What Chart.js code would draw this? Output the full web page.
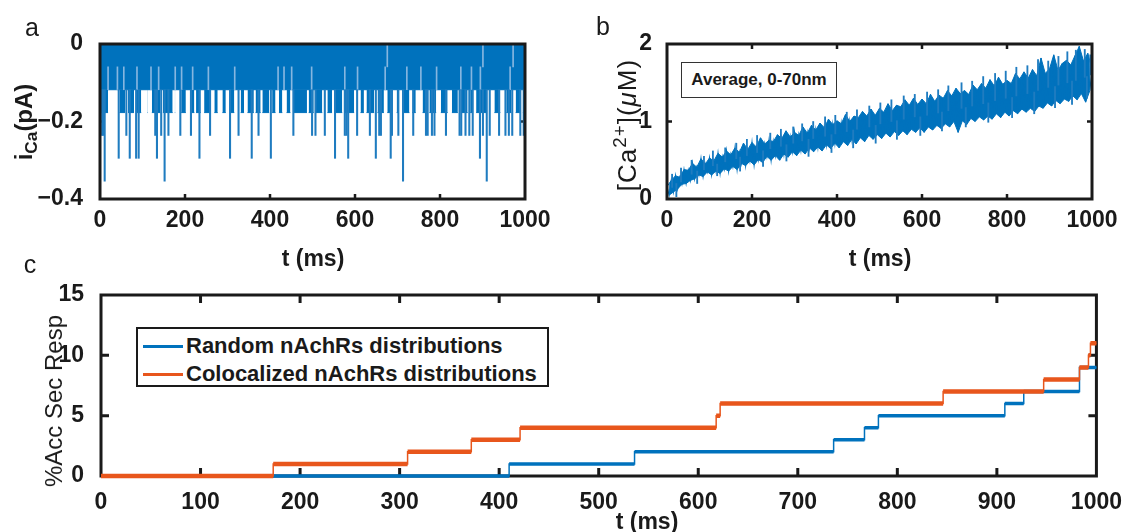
<!DOCTYPE html>
<html>
<head>
<meta charset="utf-8">
<title>Calcium current, calcium concentration and accumulated secretory response</title>
<script src="https://cdn.jsdelivr.net/npm/chart.js@4.4.0/dist/chart.umd.min.js"></script>
<style>
  body { margin: 0; width: 1127px; height: 532px; background: #fff; position: relative; overflow: hidden;
         font-family: 'Liberation Sans', Arial, Helvetica, sans-serif; color: #1a1a1a; }
  .wrap { position: absolute; }
  .txt { position: absolute; white-space: nowrap; line-height: 1; transform: translate(-50%, -50%); }
  .rot { transform: translate(-50%, -50%) rotate(-90deg); }
  .bold { font-weight: bold; }
  .panel { font-size: 25px; }
  .xt { font-size: 23px; font-weight: bold; }
  sub { font-size: 0.72em; vertical-align: -0.3em; line-height: 0; }
  sup { font-size: 0.72em; vertical-align: 0.55em; line-height: 0; }
  #note { position: absolute; left: 681px; top: 62px; width: 154px; height: 34px; border: 1px solid #333;
          font-size: 17px; font-weight: bold; display: flex; align-items: center; justify-content: center; background: #fff; }
  #legend { position: absolute; left: 136px; top: 327px; width: 409px; height: 56px; border: 2px solid #1a1a1a;
            background: #fff; font-size: 22px; font-weight: bold; }
  #legend .row { position: absolute; left: 5px; height: 26px; display: flex; align-items: center; }
  #legend .swatch { width: 40px; height: 3px; margin-right: 3px; }
</style>
</head>
<body>

<div class="wrap" id="wa" style="left:0;top:0;width:560px;height:250px"><canvas id="chartA"></canvas></div>
<div class="wrap" id="wb" style="left:560px;top:0;width:567px;height:250px"><canvas id="chartB"></canvas></div>
<div class="wrap" id="wc" style="left:0;top:260px;width:1127px;height:272px"><canvas id="chartC"></canvas></div>

<div class="txt panel" style="left:32px;top:27px">a</div>
<div class="txt panel" style="left:603px;top:26px">b</div>
<div class="txt panel" style="left:30px;top:264px">c</div>

<div class="txt rot bold" style="left:24px;top:122px;font-size:24px">i<sub>Ca</sub>(pA)</div>
<div class="txt rot" style="left:627px;top:125px;font-size:26px;letter-spacing:1px">[Ca<sup>2+</sup>](<i>μ</i>M)</div>
<div class="txt rot" style="left:54px;top:401px;font-size:24px">%Acc Sec Resp</div>

<div class="txt xt" style="left:313px;top:258px">t (ms)</div>
<div class="txt xt" style="left:880px;top:258px">t (ms)</div>
<div class="txt xt" style="left:647px;top:521px">t (ms)</div>

<div id="note">Average, 0-70nm</div>

<div id="legend">
  <div class="row" style="top:4px"><div class="swatch" style="background:#0072BD"></div>Random nAchRs distributions</div>
  <div class="row" style="top:32px"><div class="swatch" style="background:#E8561C"></div>Colocalized nAchRs distributions</div>
</div>

<script>
// --- panel a: single-channel Ca current, pA ---
const aLevels = [0, -0.059, -0.118, -0.177, -0.236, -0.295, -0.354];
const aXTicks = [0, 200, 400, 600, 800, 1000];
const aYTicks = [-0.4, -0.2, 0];
const aYTickLabels = ['−0.4', '−0.2', '0'];
// stretches (ms) where the trace keeps dropping to the -0.177 level
const aLevel3Spans = [
  [1, 19], [46, 59], [66, 80], [85, 97], [112, 113], [122, 142], [148, 171], [176, 177],
  [191, 202], [214, 222], [226, 237], [245, 261], [269, 277], [288, 296], [308, 316], [331, 339],
  [347, 362], [366, 378], [382, 398], [405, 413], [421, 429], [439, 448], [456, 487], [491, 503],
  [507, 523], [535, 546], [554, 570], [576, 598], [613, 621], [627, 645], [653, 668], [676, 688],
  [698, 702], [712, 728], [735, 743], [759, 767], [775, 791], [802, 818], [828, 842], [850, 865],
  [871, 877], [885, 909], [928, 942], [956, 968], [978, 989], [995, 1000]
];
// single openings reaching the deeper levels (ms)
const aLevel4Times = [5, 8, 62, 130, 144, 161, 189, 214, 259, 326, 373, 455, 499, 507, 529, 576, 580,
  605, 635, 657, 661, 687, 702, 737, 767, 771, 781, 787, 814, 846, 850, 860, 869, 877, 901, 917, 939,
  954, 962, 970, 989, 997];
const aLevel5Times = [44, 70, 85, 91, 134, 234, 306, 357, 402, 553, 584, 649, 684, 894];
const aLevel6Times = [11, 152, 713, 910];
// short closures visible inside the solid band
const aGapTimes = [19, 41, 56, 87, 120, 138, 177, 192, 218, 255, 317, 419, 433, 451, 498, 576, 606,
  671, 722, 755, 792, 849, 874, 895, 965];
const aTopGapTimes = [676, 901, 972];

// --- panel b: average [Ca2+] 0-70 nm, uM, one sample every 5 ms ---
const bDt = 5;
const bXTicks = [0, 200, 400, 600, 800, 1000];
const bYTicks = [0, 1, 2];
const bValues = [
  0.16, 0.05, 0.24, 0.09, 0.30, 0.13, 0.28, 0.19, 0.38, 0.20,
  0.37, 0.24, 0.46, 0.26, 0.41, 0.31, 0.52, 0.29, 0.45, 0.35,
  0.53, 0.31, 0.49, 0.36, 0.59, 0.33, 0.54, 0.39, 0.62, 0.36,
  0.57, 0.42, 0.66, 0.38, 0.60, 0.46, 0.72, 0.43, 0.64, 0.49,
  0.73, 0.44, 0.67, 0.51, 0.79, 0.47, 0.71, 0.55, 0.76, 0.50,
  0.74, 0.56, 0.83, 0.50, 0.78, 0.58, 0.88, 0.54, 0.80, 0.61,
  0.86, 0.56, 0.82, 0.63, 0.93, 0.58, 0.85, 0.66, 0.95, 0.61,
  0.89, 0.67, 0.98, 0.62, 0.92, 0.70, 1.03, 0.65, 0.96, 0.72,
  1.01, 0.66, 0.97, 0.74, 1.09, 0.69, 1.00, 0.77, 1.07, 0.71,
  1.05, 0.79, 1.13, 0.74, 1.07, 0.82, 1.16, 0.77, 1.08, 0.83,
  1.17, 0.78, 1.12, 0.85, 1.23, 0.80, 1.14, 0.87, 1.21, 0.82,
  1.19, 0.88, 1.28, 0.83, 1.21, 0.90, 1.30, 0.86, 1.22, 0.92,
  1.29, 0.86, 1.23, 0.93, 1.35, 0.89, 1.26, 0.95, 1.34, 0.91,
  1.30, 0.97, 1.40, 0.93, 1.33, 1.00, 1.43, 0.86, 1.36, 1.01,
  1.40, 0.96, 1.35, 1.04, 1.47, 1.00, 1.41, 1.06, 1.49, 1.02,
  1.43, 1.07, 1.54, 1.03, 1.46, 1.10, 1.57, 1.05, 1.48, 1.12,
  1.53, 1.07, 1.49, 1.14, 1.62, 1.10, 1.55, 1.16, 1.64, 1.12,
  1.56, 1.17, 1.67, 1.13, 1.59, 1.20, 1.82, 1.17, 1.62, 1.24,
  1.68, 1.20, 1.86, 1.27, 1.66, 1.23, 1.75, 1.29, 1.79, 1.26,
  1.73, 1.33, 1.85, 1.28, 1.97, 1.36, 1.78, 1.25, 1.88, 1.40,
  1.68
];
// narrow excursions sticking out of the band: [t (ms), from, to] in uM
const bSpikes = [
  [12, 0.15, 0.32], [33, 0.22, 0.40], [58, 0.32, 0.50], [87, 0.38, 0.55], [108, 0.43, 0.62],
  [137, 0.48, 0.66], [163, 0.52, 0.72], [188, 0.56, 0.77], [212, 0.60, 0.82], [243, 0.65, 0.85],
  [268, 0.68, 0.90], [297, 0.72, 0.93], [318, 0.75, 0.97], [344, 0.78, 1.00], [372, 0.81, 1.06],
  [396, 0.84, 1.08], [423, 0.87, 1.12], [447, 0.90, 1.15], [476, 0.93, 1.20], [502, 0.97, 1.24],
  [528, 1.00, 1.28], [557, 1.03, 1.33], [583, 1.06, 1.35], [612, 1.08, 1.38], [638, 1.11, 1.41],
  [662, 1.14, 1.46], [693, 1.17, 1.50], [718, 1.20, 1.52], [744, 1.23, 1.58], [772, 1.27, 1.62],
  [797, 1.30, 1.65], [822, 1.33, 1.70], [848, 1.36, 1.72], [873, 1.40, 1.80], [897, 1.44, 1.78],
  [921, 1.47, 1.84], [942, 1.50, 1.90], [962, 1.53, 1.92], [983, 1.57, 1.93], [996, 1.60, 1.86],
  [22, 0.20, 0.03], [71, 0.36, 0.20], [118, 0.45, 0.30], [172, 0.54, 0.36], [226, 0.62, 0.42],
  [281, 0.70, 0.49], [333, 0.77, 0.55], [387, 0.83, 0.60], [438, 0.89, 0.66], [491, 0.95, 0.72],
  [541, 1.01, 0.77], [596, 1.06, 0.82], [647, 1.12, 0.88], [703, 1.18, 0.93], [756, 1.24, 0.99],
  [812, 1.31, 1.05], [864, 1.38, 1.10], [913, 1.45, 1.18], [953, 1.52, 1.22], [988, 1.58, 1.30]
];

// --- panel c: accumulated secretory response, % ---
const cXTicks = [0, 100, 200, 300, 400, 500, 600, 700, 800, 900, 1000];
const cYTicks = [0, 5, 10, 15];
const cEnd = 1000;
const cRandomTimes = [0, 410, 536, 736, 767, 781, 908, 927, 983];
const cRandomLevels = [0, 1, 2, 3, 4, 5, 6, 7, 9];
const cColocTimes = [0, 173, 308, 372, 421, 618, 622, 846, 947, 983, 992, 994];
const cColocLevels = [0, 1, 2, 3, 4, 5, 6, 7, 8, 9, 10, 11];

const BLUE = '#0072BD';
const ORANGE = '#E8561C';
const INK = '#1a1a1a';
const FONT = "'Liberation Sans', Arial, Helvetica, sans-serif";
const TICK_FONT = { family: FONT, size: 23, weight: 'bold' };

// box round the plot area with inward ticks, drawn with the chart's own scales
function drawTicks(chart, o) {
  const { ctx, chartArea: ca, scales } = chart;
  ctx.save();
  ctx.strokeStyle = INK;
  ctx.lineWidth = o.tickWidth;
  ctx.beginPath();
  scales.x.ticks.forEach(t => {
    if (t.value <= scales.x.min || t.value >= scales.x.max) return;
    const px = scales.x.getPixelForValue(t.value);
    ctx.moveTo(px, ca.bottom); ctx.lineTo(px, ca.bottom - o.tickLen);
    ctx.moveTo(px, ca.top); ctx.lineTo(px, ca.top + o.tickLen);
  });
  scales.y.ticks.forEach(t => {
    if (t.value <= scales.y.min || t.value >= scales.y.max) return;
    const py = scales.y.getPixelForValue(t.value);
    ctx.moveTo(ca.left, py); ctx.lineTo(ca.left + o.tickLen, py);
    ctx.moveTo(ca.right, py); ctx.lineTo(ca.right - o.tickLen, py);
  });
  ctx.stroke();
  ctx.restore();
}

function drawFrame(chart, o) {
  const { ctx, chartArea: ca } = chart;
  ctx.save();
  ctx.strokeStyle = INK;
  ctx.lineWidth = o.lineWidth;
  ctx.strokeRect(ca.left, ca.top, ca.right - ca.left, ca.bottom - ca.top);
  ctx.restore();
}

const framePlugin = {
  id: 'frame',
  beforeDatasetsDraw(chart, args, o) {
    drawTicks(chart, o);
    if (!o.frameOnTop) drawFrame(chart, o);
  },
  afterDatasetsDraw(chart, args, o) {
    if (o.frameOnTop) drawFrame(chart, o);
  }
};

function axis(ticks, labels, min, max, size, pad) {
  return {
    type: 'linear', min: min, max: max, offset: false,
    grid: { display: false }, border: { display: false },
    afterBuildTicks: s => { s.ticks = ticks.map(v => ({ value: v })); },
    afterFit: s => { if (s.isHorizontal()) s.height = size; else s.width = size; },
    ticks: {
      padding: pad, color: INK, font: TICK_FONT, maxRotation: 0, autoSkip: false,
      callback: (v, i) => labels[i]
    }
  };
}

function baseOptions(pad, xAxis, yAxis, frame) {
  return {
    responsive: true, maintainAspectRatio: false, animation: false,
    layout: { padding: pad },
    plugins: { legend: { display: false }, tooltip: { enabled: false }, frame: frame },
    scales: { x: xAxis, y: yAxis }
  };
}

// panel a: each -0.177 stretch is a short run filled up to the -0.118 level
function spanRuns(spans, level) {
  const pts = [];
  spans.forEach(s => {
    pts.push({ x: s[0], y: level }, { x: s[1], y: level }, { x: s[1], y: null });
  });
  return pts;
}

function openings(times, from, to) {
  return times.map(t => ({ x: t, y: [from, to] }));
}

new Chart(document.getElementById('chartA'), {
  type: 'line',
  data: {
    datasets: [
      { type: 'bar', data: [].concat(
          openings(aLevel4Times, aLevels[2], aLevels[4]),
          openings(aLevel5Times, aLevels[2], aLevels[5]),
          openings(aLevel6Times, aLevels[2], aLevels[6])),
        backgroundColor: '#1f7cc0', barThickness: 1.4, grouped: false, order: 1 },
      { type: 'bar', data: [].concat(
          openings(aGapTimes, aLevels[2], aLevels[1]),
          openings(aTopGapTimes, aLevels[1], aLevels[0])),
        backgroundColor: 'rgba(140,185,225,0.95)', barThickness: 1, grouped: false, order: 2 },
      { data: spanRuns(aLevel3Spans, aLevels[3]), spanGaps: false, fill: { value: aLevels[2] },
        backgroundColor: BLUE, borderColor: BLUE, borderWidth: 1, pointRadius: 0, order: 3 },
      { data: [{ x: 0, y: aLevels[2] }, { x: 1000, y: aLevels[2] }], fill: 'end',
        backgroundColor: BLUE, borderColor: BLUE, borderWidth: 1, pointRadius: 0, order: 4 }
    ]
  },
  options: baseOptions({ top: 44, right: 35, left: 0, bottom: 0 },
    axis(aXTicks, aXTicks.map(String), 0, 1000, 51, 0),
    axis(aYTicks, aYTickLabels, -0.4, 0, 100, 9),
    { tickLen: 5, tickWidth: 2.5, lineWidth: 3, frameOnTop: true }),
  plugins: [framePlugin]
});

// panel b: the sampled trace, with the band between its highs and lows filled in
const bTrace = bValues.map((v, i) => ({ x: i * bDt, y: v }));
const bHighs = bTrace.filter((p, i) => i % 2 === 0);
const bLows = bTrace.filter((p, i) => i % 2 === 1);

new Chart(document.getElementById('chartB'), {
  type: 'line',
  data: {
    datasets: [
      { type: 'bar', data: bSpikes.map(s => ({ x: s[0], y: [s[1], s[2]] })),
        backgroundColor: '#1f7cc0', barThickness: 1.2, grouped: false, order: 0 },
      { data: bTrace, borderColor: BLUE, borderWidth: 1.2, pointRadius: 0, tension: 0, fill: false, order: 1 },
      { data: bHighs, borderColor: BLUE, borderWidth: 1, pointRadius: 0, tension: 0, fill: false, order: 2 },
      { data: bLows, borderColor: BLUE, borderWidth: 1, pointRadius: 0, tension: 0,
        fill: '-1', backgroundColor: BLUE, order: 3 }
    ]
  },
  options: baseOptions({ top: 44, right: 35, left: 0, bottom: 0 },
    axis(bXTicks, bXTicks.map(String), 0, 1000, 51, 0),
    axis(bYTicks, bYTicks.map(String), 0, 2, 107, 7),
    { tickLen: 5, tickWidth: 2.5, lineWidth: 3, frameOnTop: true }),
  plugins: [framePlugin]
});

// panel c: thin stair line plus thick horizontal runs
function stairPoints(times, levels, end) {
  const pts = times.map((t, i) => ({ x: t, y: levels[i] }));
  pts.push({ x: end, y: levels[levels.length - 1] });
  return pts;
}

function stairRuns(times, levels, end) {
  const pts = [];
  times.forEach((t, i) => {
    const t1 = i + 1 < times.length ? times[i + 1] : end;
    pts.push({ x: t, y: levels[i] }, { x: t1, y: levels[i] }, { x: t1, y: null });
  });
  return pts;
}

new Chart(document.getElementById('chartC'), {
  type: 'line',
  data: {
    datasets: [
      { label: 'Colocalized nAchRs distributions', data: stairRuns(cColocTimes, cColocLevels, cEnd),
        borderColor: ORANGE, borderWidth: 4.5, pointRadius: 0, spanGaps: false, clip: 6, order: 1 },
      { data: stairPoints(cColocTimes, cColocLevels, cEnd), stepped: 'before',
        borderColor: ORANGE, borderWidth: 1.5, pointRadius: 0, clip: 6, order: 2 },
      { label: 'Random nAchRs distributions', data: stairRuns(cRandomTimes, cRandomLevels, cEnd),
        borderColor: BLUE, borderWidth: 3.5, pointRadius: 0, spanGaps: false, clip: 6, order: 3 },
      { data: stairPoints(cRandomTimes, cRandomLevels, cEnd), stepped: 'before',
        borderColor: BLUE, borderWidth: 1.5, pointRadius: 0, clip: 6, order: 4 }
    ]
  },
  options: baseOptions({ top: 35, right: 30, left: 0, bottom: 0 },
    axis(cXTicks, cXTicks.map(String), 0, 1000, 56, 5),
    axis(cYTicks, cYTicks.map(String), 0, 15, 101, 9),
    { tickLen: 8, tickWidth: 3, lineWidth: 3, frameOnTop: false }),
  plugins: [framePlugin]
});
</script>
</body>
</html>
